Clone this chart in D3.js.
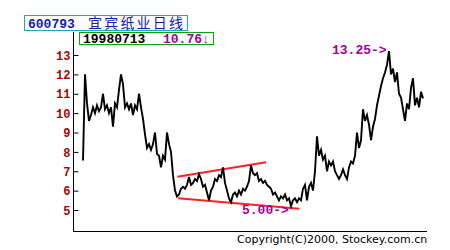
<!DOCTYPE html>
<html><head><meta charset="utf-8">
<script src="https://cdn.jsdelivr.net/npm/d3@7"></script>
<style>
html,body{margin:0;padding:0;background:#fff;}
svg{display:block;}
</style></head>
<body>
<svg id="chart" width="450" height="250"></svg>
<script>
// ---- data ----
const stockCode = "600793";
const stockName = "宜宾纸业日线";
const lastDate = "19980713";
const lastPrice = "10.76↓";
const yTicks = [5, 6, 7, 8, 9, 10, 11, 12, 13];
const closes = [
  7.55, 12.0, 10.5, 9.6, 9.9, 10.3, 10.0, 10.4, 10.1, 10.3,
  11.0, 10.2, 10.4, 10.0, 10.3, 9.3, 10.5, 10.3, 11.2, 12.0,
  11.5, 10.3, 10.5, 10.2, 10.5, 9.9, 10.4, 10.2, 11.0, 10.3,
  9.7, 8.9, 8.2, 8.4, 8.1, 8.4, 9.0, 7.9, 7.8, 7.2,
  7.8, 7.6, 9.0, 8.4, 8.0, 6.8, 6.0, 5.7, 5.8, 6.1,
  6.2, 6.1, 6.3, 6.7, 6.3, 6.4, 6.6, 6.5, 6.85, 6.6,
  6.2, 6.3, 5.9, 5.5, 6.0, 6.2, 6.6, 6.5, 6.8, 6.7,
  7.2, 6.4, 6.0, 5.6, 5.4, 5.8, 5.9, 5.7, 6.0, 5.8,
  6.1, 6.0, 6.2, 6.5, 7.3, 6.9, 6.8, 6.9, 6.5, 6.6,
  6.4, 6.5, 6.3, 6.2, 6.1, 5.8, 5.9, 5.7, 5.5, 5.7,
  5.6, 5.8, 5.5, 5.6, 5.2, 5.5, 5.6, 5.4, 5.6, 5.5,
  6.1, 6.3, 5.5, 6.2, 6.4, 6.0, 7.0, 8.8, 7.8, 8.1,
  7.6, 7.8, 7.0, 7.5, 7.3, 7.5, 7.0, 6.8, 6.6, 6.8,
  7.1, 6.8, 6.6, 7.2, 7.5, 7.4, 7.8, 9.0, 8.2, 8.6,
  10.2, 9.6, 9.9, 9.4, 8.6, 9.3, 9.7, 10.4, 10.9, 11.4,
  11.8, 12.1, 12.5, 13.2, 12.0, 12.3, 11.6, 12.1, 11.0, 10.8,
  10.2, 9.6, 10.5, 10.2, 11.3, 11.8, 10.4, 10.8, 10.3, 11.1,
  10.76
];
// trend lines: [index, price]
const upperTrend = [[47.2, 6.72], [91.5, 7.47]];
const lowerTrend = [[47.6, 5.61], [108.2, 5.06]];
const highLabel = "13.25->";
const lowLabel = "5.00->";
const copyright = "Copyright(C)2000, Stockey.com.cn";

// ---- drawing ----
const svg = d3.select("#chart");
svg.append("rect").attr("width", 450).attr("height", 250).attr("fill", "#fff");

const x = d3.scaleLinear().domain([0, closes.length - 1]).range([83, 423]);
const y = d3.scaleLinear().domain([5, 13]).range([210, 55]);

const mono = "'Liberation Mono','DejaVu Sans Mono',monospace";

// axes lines
svg.append("line").attr("x1", 73.5).attr("x2", 73.5).attr("y1", 32).attr("y2", 231.5)
  .attr("stroke", "#000").attr("stroke-width", 1);
svg.append("line").attr("x1", 73).attr("x2", 427).attr("y1", 231.5).attr("y2", 231.5)
  .attr("stroke", "#000").attr("stroke-width", 1);

// y axis ticks via d3 axis
const yAxis = d3.axisRight(y).tickValues(yTicks).tickSize(5).tickFormat(d3.format("d"));
const gy = svg.append("g").attr("transform", "translate(73.5,0)").call(yAxis);
gy.select(".domain").remove();
gy.selectAll(".tick line").attr("stroke", "#000");
gy.selectAll(".tick text")
  .attr("x", -3).attr("text-anchor", "end").attr("dy", "0.35em")
  .attr("fill", "#b00000")
  .style("font-family", mono).style("font-weight", "bold").style("font-size", "12px");

// trend lines
const lineGen = d3.line().x(d => x(d[0])).y(d => y(d[1]));
[upperTrend, lowerTrend].forEach(t => {
  svg.append("path").attr("d", lineGen(t)).attr("fill", "none")
    .attr("stroke", "#ff2020").attr("stroke-width", 2);
});

// price line
const priceLine = d3.line().x((d, i) => x(i)).y(d => y(d));
svg.append("path").datum(closes).attr("d", priceLine)
  .attr("fill", "none").attr("stroke", "#000").attr("stroke-width", 1.9)
  .attr("stroke-linejoin", "miter");

// annotations
svg.append("text").attr("x", 332).attr("y", 54).text(highLabel)
  .attr("fill", "#a000a0").style("font-family", mono).style("font-weight", "bold").style("font-size", "13px");
svg.append("text").attr("x", 242).attr("y", 214).text(lowLabel)
  .attr("fill", "#a000a0").style("font-family", mono).style("font-weight", "bold").style("font-size", "13px");

// title box
svg.append("rect").attr("x", 24.5).attr("y", 15.5).attr("width", 163).attr("height", 15)
  .attr("fill", "#fff").attr("stroke", "#20a8b8").attr("stroke-width", 1);
svg.append("text").attr("x", 28).attr("y", 27.5).text(stockCode)
  .attr("fill", "#1020b0").style("font-family", mono).style("font-weight", "bold").style("font-size", "13px");
svg.append("text").attr("x", 88).attr("y", 28).text(stockName)
  .attr("fill", "#1020b0").attr("textLength", 95).attr("lengthAdjust", "spacing")
  .style("font-family", "'Noto Sans CJK SC',sans-serif").style("font-size", "14px");

// date box
svg.append("rect").attr("x", 79.5).attr("y", 32.5).attr("width", 134).attr("height", 12)
  .attr("fill", "#fff").attr("stroke", "#10a010").attr("stroke-width", 1);
svg.append("text").attr("x", 83).attr("y", 42.5).text(lastDate)
  .attr("fill", "#000").style("font-family", mono).style("font-weight", "bold").style("font-size", "13px");
svg.append("text").attr("x", 163).attr("y", 42.5).text(lastPrice)
  .attr("fill", "#a000a0").style("font-family", mono).style("font-weight", "bold").style("font-size", "13px");

// copyright
svg.append("text").attr("x", 237).attr("y", 243).text(copyright)
  .attr("fill", "#000").style("font-family", "'DejaVu Sans',sans-serif").style("font-size", "11px");
</script>
</body></html>
